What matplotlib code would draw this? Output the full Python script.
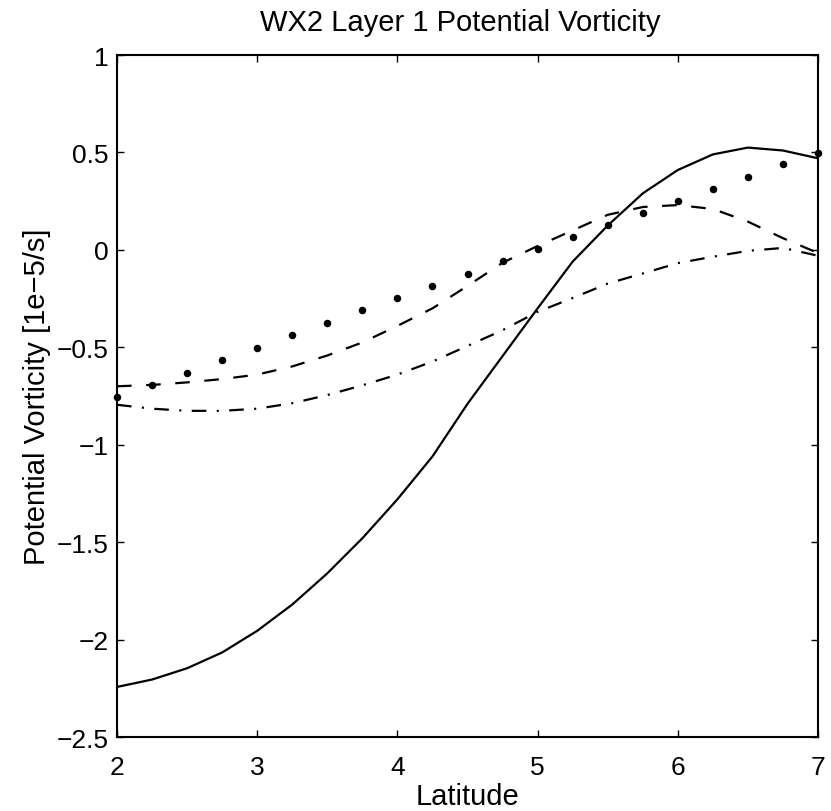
import matplotlib
matplotlib.use("Agg")
import matplotlib.pyplot as plt

plt.rcParams['font.family'] = ['Liberation Sans', 'DejaVu Sans']
plt.rcParams['lines.scale_dashes'] = False

latitude = [2.0, 2.25, 2.5, 2.75, 3.0, 3.25, 3.5, 3.75, 4.0, 4.25, 4.5,
            4.75, 5.0, 5.25, 5.5, 5.75, 6.0, 6.25, 6.5, 6.75, 7.0]

pv_solid = [-2.243, -2.205, -2.147, -2.066, -1.955, -1.820, -1.660, -1.480,
            -1.280, -1.060, -0.790, -0.545, -0.300, -0.060, 0.125, 0.290,
            0.410, 0.490, 0.525, 0.510, 0.470]

pv_dashed = [-0.700, -0.693, -0.680, -0.663, -0.640, -0.598, -0.542, -0.475,
             -0.390, -0.300, -0.185, -0.066, 0.020, 0.100, 0.180, 0.220,
             0.230, 0.210, 0.145, 0.060, -0.016]

pv_dashdot = [-0.795, -0.815, -0.826, -0.826, -0.815, -0.787, -0.745, -0.695,
              -0.640, -0.573, -0.493, -0.412, -0.318, -0.247, -0.173, -0.121,
              -0.068, -0.035, -0.005, 0.010, -0.030]

pv_dots = [-0.756, -0.692, -0.630, -0.566, -0.504, -0.439, -0.376, -0.310,
           -0.247, -0.184, -0.123, -0.059, 0.003, 0.065, 0.129, 0.190,
           0.250, 0.312, 0.376, 0.440, 0.498]

xticks = [2, 3, 4, 5, 6, 7]
yticks = [-2.5, -2, -1.5, -1, -0.5, 0, 0.5, 1]
yticklabels = ['\u22122.5', '\u22122', '\u22121.5', '\u22121', '\u22120.5', '0', '0.5', '1']

fig = plt.figure(figsize=(8.31, 8.12), dpi=100)
ax = fig.add_axes([0.1408, 0.0911, 0.8436, 0.8399])

ax.plot(latitude, pv_solid, color='black', lw=1.6, linestyle='-')
ax.plot(latitude, pv_dashed, color='black', lw=1.6, dashes=(10.5, 10.5))
ax.plot(latitude, pv_dashdot, color='black', lw=1.6, dashes=(10.5, 7.5, 1.5, 7.5))
ax.plot(latitude, pv_dots, color='black', linestyle='none', marker='o',
        markersize=4.4, clip_on=False)

ax.set_xlim(2, 7)
ax.set_ylim(-2.5, 1)
ax.set_xticks(xticks)
ax.set_xticklabels([str(t) for t in xticks])
ax.set_yticks(yticks)
ax.set_yticklabels(yticklabels)

ax.tick_params(direction='in', length=5, width=1, top=True, right=True,
               labelsize=19)
ax.tick_params(axis='x', pad=13)
ax.tick_params(axis='y', pad=6)
for s in ax.spines.values():
    s.set_linewidth(1.5)

ax.set_xlabel('Latitude', fontsize=21, labelpad=2)
ax.set_ylabel('Potential Vorticity [1e\u22125/s]', fontsize=21, labelpad=4)
ax.set_title('WX2 Layer 1 Potential Vorticity', fontsize=21, pad=18, x=0.49)

fig.savefig('out.png', dpi=100)
